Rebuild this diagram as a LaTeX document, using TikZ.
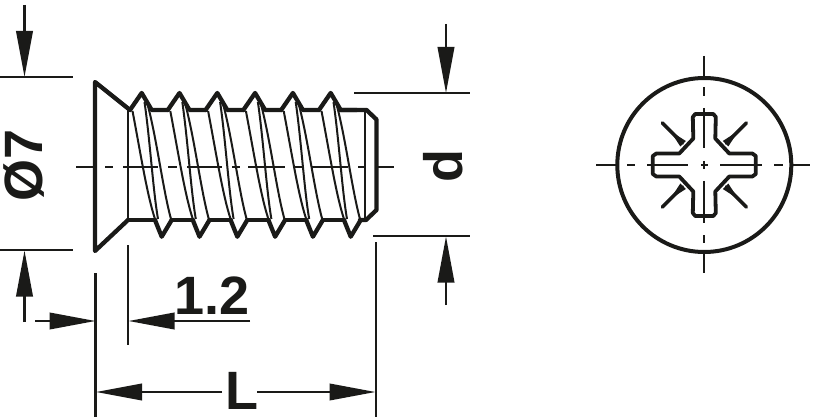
\documentclass[tikz,border=0pt]{standalone}
\usepackage{fontspec}
\setmainfont{Liberation Sans}
\usetikzlibrary{arrows.meta}
\definecolor{ink}{HTML}{1A1A18}
\tikzset{
  outline/.style={line width=4.3pt,line join=round,line cap=round,color=ink},
  thin thread/.style={line width=2pt,color=ink},
  dimline/.style={line width=2.2pt,color=ink},
  centre/.style={line width=2pt,color=ink},
  dimarrow/.style={line width=2.2pt,color=ink,-{Triangle[length=46pt,width=16.5pt]}},
  dimtext/.style={font=\bfseries\fontsize{54}{54}\selectfont,text=ink,inner sep=0pt,anchor=center},
}
\begin{document}
\begin{tikzpicture}[x=1pt,y=-1pt]
\useasboundingbox (0,0) rectangle (817,417);
% screw head
\draw[outline] (130,110) -- (95,82) -- (95,251) -- (128,220);
\draw[line width=2.2pt,color=ink] (128,110) -- (128,220);
% thread outline
\draw[outline] (128,220) -- (155,220);
\foreach \i in {0,...,5}{
  \pgfmathsetmacro{\a}{37.8*\i}
  \draw[outline] ({130+\a},110) -- ({141.7+\a},93) -- ({151.7+\a},110) -- ({167.8+\a},110);
  \draw[outline] ({155+\a},220) -- ({161.7+\a},236.7) -- ({171.7+\a},220);
  \draw[thin thread] ({132.5+\a},111) .. controls ({140+\a},150) and ({147+\a},195) .. ({155+\a},219);
  \draw[thin thread] ({144.5+\a},102) .. controls ({150+\a},140) and ({153+\a},190) .. ({158+\a},219);
  \draw[thin thread] ({147.5+\a},104) .. controls ({157+\a},140) and ({163+\a},190) .. ({171+\a},219);
}
\foreach \i in {0,...,4}{
  \pgfmathsetmacro{\a}{37.8*\i}
  \draw[outline] ({171.7+\a},220) -- ({192.8+\a},220);
}
% shank end
\draw[outline] (340,110) -- (366.5,110) -- (376.5,119.5) -- (376.5,210) -- (366,220) -- (360,220);
\draw[line width=2.2pt,color=ink] (365,110) -- (365,220);
% axis of the side view
\foreach \p/\q in {76/95,105/113,123/158,168/177,187/222,232/240,248/285,293/302,312/348,358/365,377/394}{
  \draw[centre] (\p,167) -- (\q,167);
}
% dimension Ø7
\coordinate (o1) at (0,77); \coordinate (o2) at (73,77);
\coordinate (o3) at (0,250); \coordinate (o4) at (73,250);
\draw[dimline] (o1) -- (o2);
\draw[dimline] (o3) -- (o4);
\coordinate (oa) at (24.5,5); \coordinate (oat) at (24.5,77);
\coordinate (ob) at (24.5,322); \coordinate (obt) at (24.5,250.5);
\draw[dimarrow] (oa) -- (oat);
\draw[dimarrow] (ob) -- (obt);
\node[dimtext,rotate=90] (dia) at (24.5,165) {Ø7};
% dimension d
\coordinate (d1) at (354,93); \coordinate (d2) at (470,93);
\coordinate (d3) at (373,236); \coordinate (d4) at (470,236);
\draw[dimline] (d1) -- (d2);
\draw[dimline] (d3) -- (d4);
\coordinate (da) at (446,24); \coordinate (dat) at (446,93);
\coordinate (db) at (446,305); \coordinate (dbt) at (446,236.5);
\draw[dimarrow] (da) -- (dat);
\draw[dimarrow] (db) -- (dbt);
\node[dimtext,rotate=90] (dd) at (443,166) {d};
% extension lines
\coordinate (e1) at (95.5,273); \coordinate (e2) at (95.5,417);
\coordinate (e3) at (128,245); \coordinate (e4) at (128,345);
\coordinate (e5) at (376,242); \coordinate (e6) at (376,417);
\draw[dimline] (e1) -- (e2);
\draw[dimline] (e3) -- (e4);
\draw[dimline] (e5) -- (e6);
% dimension 1.2
\coordinate (ta) at (35,321); \coordinate (tat) at (95.5,321);
\coordinate (tb) at (250,321); \coordinate (tbt) at (128.5,321);
\draw[dimarrow] (ta) -- (tat);
\draw[dimarrow] (tb) -- (tbt);
\node[dimtext] (th) at (212,296) {1.2};
% dimension L
\node[dimtext] (ell) at (242,391) {L};
\coordinate (la) at (222,392); \coordinate (lat) at (96,392);
\coordinate (lb) at (257,392); \coordinate (lbt) at (375.5,392);
\draw[dimarrow] (la) -- (lat);
\draw[dimarrow] (lb) -- (lbt);
% end view
\begin{scope}[shift={(704.3,165)}]
  \draw[line width=4pt,color=ink] (0,0) circle [radius=87];
  \draw[outline,line width=3.8pt]
    (-9,-51) -- (9,-51) -- (11.5,-48) -- (11,-26.5) -- (25,-11.5) -- (48,-11.5) -- (51.5,-9)
    -- (51.5,9) -- (48,11.5) -- (25,11.5) -- (11,26.5) -- (11.5,48) -- (9,51)
    -- (-9,51) -- (-11.5,48) -- (-11,26.5) -- (-25,11.5) -- (-48,11.5) -- (-51.5,9)
    -- (-51.5,-9) -- (-48,-11.5) -- (-25,-11.5) -- (-11,-26.5) -- (-11.5,-48) -- cycle;
  \foreach \r in {0,90,180,270}{
    \begin{scope}[rotate=\r]
      \draw[outline,line width=3.6pt] (-42,-42) -- (-22,-22);
      \fill[ink] (-34,-34) -- (-18.5,-24) -- (-24,-18.5) -- cycle;
    \end{scope}
  }
\end{scope}
\foreach \p/\q in {596/616,627/635,647/688,701/708,720/762,774/783,793/810}{
  \draw[centre] (\p,165) -- (\q,165);
}
\foreach \p/\q in {56/77,87/96,108/148,161/169,181/223,235/243,253/273}{
  \draw[centre] (704.3,\p) -- (704.3,\q);
}
\end{tikzpicture}
\end{document}
